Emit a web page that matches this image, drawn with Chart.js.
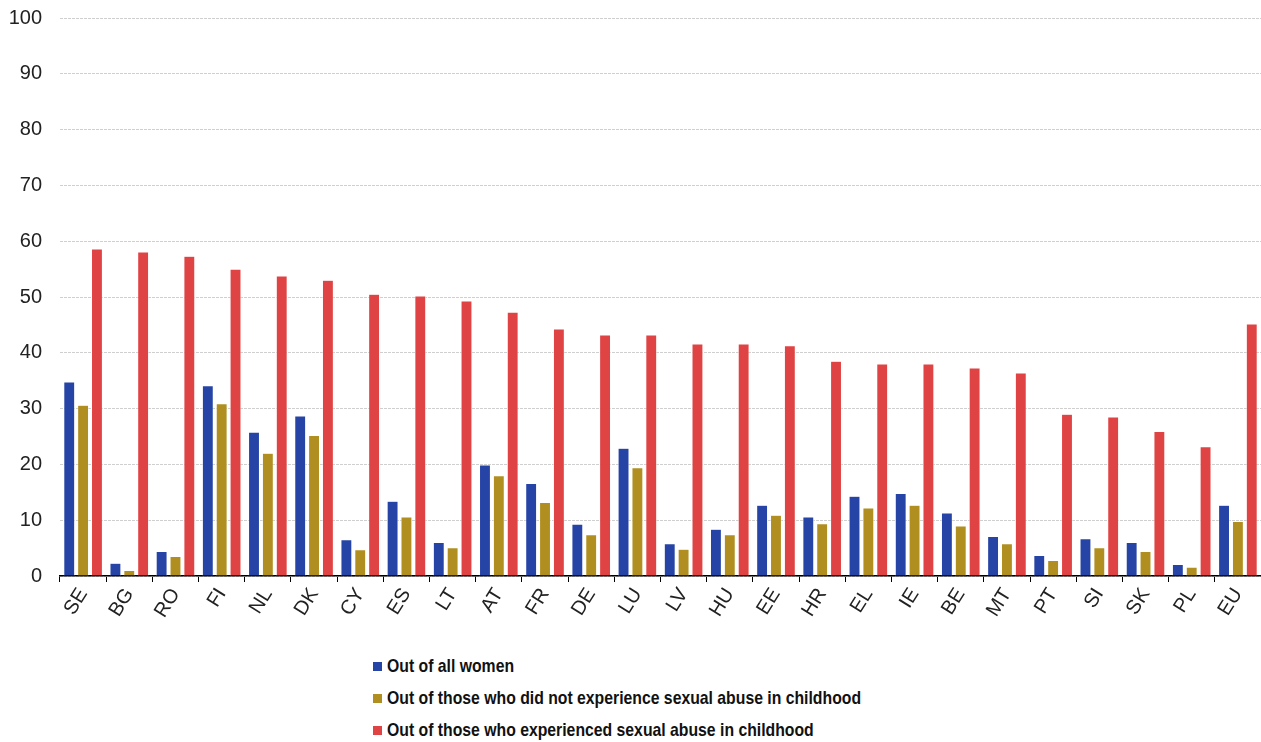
<!DOCTYPE html>
<html>
<head>
<meta charset="utf-8">
<script src="https://cdn.jsdelivr.net/npm/chart.js@4/dist/chart.umd.min.js"></script>
<style>
  body { margin: 0; background: #fff; font-family: "Liberation Sans", Arial, sans-serif; }
  .wrap { position: relative; width: 1261px; height: 652px; margin-top: -12px; }
  .legend { position: absolute; left: 373px; top: 650px; }
  .legend div { height: 32px; line-height: 32px; font-weight: bold; font-size: 19px; color: #111; white-space: nowrap; }
  .legend span.box { display: inline-block; width: 9px; height: 9px; margin-right: 5px; vertical-align: 1px; }
  .legend span.txt { display: inline-block; transform: scaleX(0.83); transform-origin: left center; }
</style>
</head>
<body>
<div class="wrap"><canvas id="chart"></canvas></div>
<div class="legend" id="legend"></div>
<script>
const countries = ['SE', 'BG', 'RO', 'FI', 'NL', 'DK', 'CY', 'ES', 'LT', 'AT', 'FR', 'DE', 'LU',
  'LV', 'HU', 'EE', 'HR', 'EL', 'IE', 'BE', 'MT', 'PT', 'SI', 'SK', 'PL', 'EU'];

const allWomen = [34.8, 2.3, 4.4, 34.1, 25.8, 28.7, 6.5, 13.4, 6.0, 19.9, 16.6, 9.3, 22.9,
  5.8, 8.4, 12.7, 10.6, 14.3, 14.8, 11.3, 7.1, 3.7, 6.7, 6.0, 2.1, 12.7];
const noAbuse = [30.6, 1.0, 3.5, 30.9, 22.0, 25.2, 4.7, 10.6, 5.1, 18.0, 13.2, 7.4, 19.4,
  4.8, 7.4, 10.9, 9.4, 12.2, 12.7, 9.0, 5.8, 2.8, 5.1, 4.4, 1.6, 9.8];
const abuse = [58.6, 58.1, 57.3, 55.0, 53.8, 53.0, 50.5, 50.2, 49.3, 47.3, 44.3, 43.2, 43.2,
  41.6, 41.6, 41.3, 38.5, 38.0, 38.0, 37.3, 36.4, 29.0, 28.5, 25.9, 23.2, 45.2];

const seriesNames = [
  'Out of all women',
  'Out of those who did not experience sexual abuse in childhood',
  'Out of those who experienced sexual abuse in childhood'
];
const colors = ['#2644a6', '#b08f20', '#e04343'];

const tickFont = { family: '"Liberation Sans", Arial, sans-serif', size: 20 };

new Chart(document.getElementById('chart'), {
  type: 'bar',
  data: {
    labels: countries,
    datasets: [allWomen, noAbuse, abuse].map(function (d, i) {
      return {
        label: seriesNames[i],
        data: d,
        backgroundColor: colors[i],
        borderColor: '#ffffff',
        borderWidth: 0.6,
        categoryPercentage: 0.9,
        barPercentage: 0.8
      };
    })
  },
  options: {
    responsive: true,
    maintainAspectRatio: false,
    animation: false,
    events: [],
    layout: { padding: { top: 7, right: 0, left: 0, bottom: 0 } },
    plugins: { legend: { display: false }, tooltip: { enabled: false } },
    scales: {
      x: {
        grid: { display: true, drawOnChartArea: false, drawTicks: true, tickLength: 6, color: '#000' },
        border: { display: true, color: '#000', width: 1.5 },
        ticks: { font: tickFont, color: '#222', minRotation: 58, maxRotation: 58, padding: 2 },
        afterFit: function (scale) { scale.height = 64; }
      },
      y: {
        min: 0,
        max: 100,
        ticks: { stepSize: 10, font: tickFont, color: '#222', padding: 18 },
        grid: { color: '#cfcfcf', drawTicks: false },
        border: { display: false, dash: [3, 1] },
        afterFit: function (scale) { scale.width = 60; }
      }
    }
  }
});

const legend = document.getElementById('legend');
seriesNames.forEach(function (name, i) {
  const row = document.createElement('div');
  const box = document.createElement('span');
  box.className = 'box';
  box.style.background = colors[i];
  const txt = document.createElement('span');
  txt.className = 'txt';
  txt.textContent = name;
  row.appendChild(box);
  row.appendChild(txt);
  legend.appendChild(row);
});
</script>
</body>
</html>
